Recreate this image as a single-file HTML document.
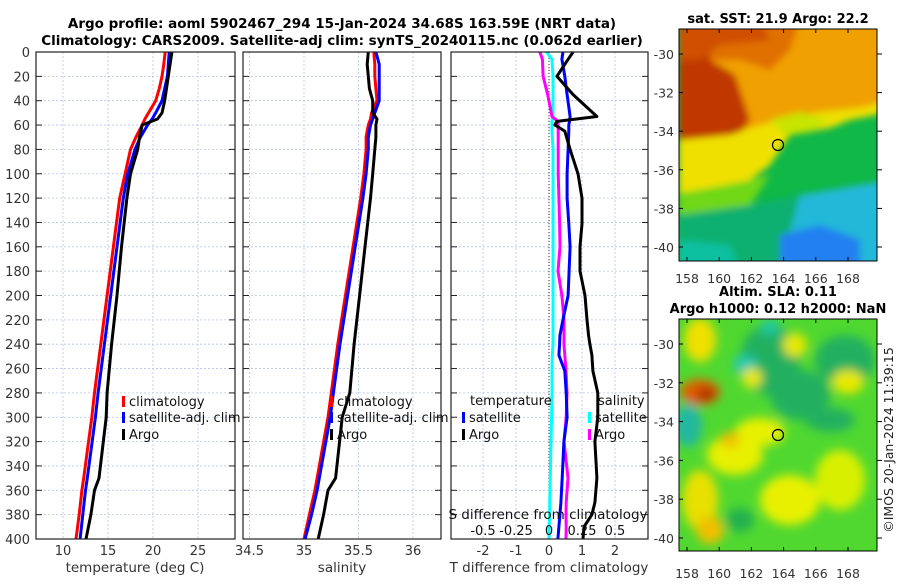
<!DOCTYPE html>
<html><head><meta charset="utf-8">
<style>
html,body{margin:0;padding:0;background:#fff;}
body{width:900px;height:580px;overflow:hidden;font-family:"Liberation Sans","DejaVu Sans",sans-serif;}
svg text{font-family:"DejaVu Sans","Liberation Sans",sans-serif;}
</style></head>
<body>
<svg id="fig" width="900" height="580" viewBox="0 0 900 580" xmlns="http://www.w3.org/2000/svg">
<defs>
<filter id="blur1" x="-20%" y="-20%" width="140%" height="140%"><feGaussianBlur stdDeviation="5"/></filter>
<filter id="blur2" x="-20%" y="-20%" width="140%" height="140%"><feGaussianBlur stdDeviation="3.5"/></filter>
<clipPath id="clipTop"><rect x="679" y="29" width="198" height="232"/></clipPath>
<clipPath id="clipBot"><rect x="679" y="319" width="198" height="232"/></clipPath>
</defs>
<g font-weight="bold" font-size="13.5" text-anchor="middle" fill="#000">
<text x="342" y="28">Argo profile: aoml 5902467_294 15-Jan-2024 34.68S 163.59E (NRT data)</text>
<text x="342" y="45">Climatology: CARS2009. Satellite-adj clim: synTS_20240115.nc (0.062d earlier)</text>
</g>
<g id="panels"></g>
<g id="maps">
 <g clip-path="url(#clipTop)">
  <rect x="679" y="29" width="198" height="232" fill="#10b848"/>
  <g filter="url(#blur2)">
   <polygon points="679,20 890,20 890,100 860,108 820,112 790,120 760,128 730,140 679,145" fill="#f0a000"/>
   <polygon points="679,20 800,20 790,50 770,70 740,60 710,60 679,70" fill="#e07000"/>
   <polygon points="679,20 705,20 710,60 735,75 750,120 735,140 700,140 679,150" fill="#c03800"/>
   <polygon points="679,20 760,20 770,40 720,45 700,60 679,60" fill="#d05000"/>
   <polygon points="679,140 730,135 760,125 790,118 820,112 860,108 890,100 890,112 850,120 830,128 790,135 770,165 750,180 720,188 700,190 679,195" fill="#f0e000"/>
   <polygon points="770,120 800,112 830,120 810,132 785,135" fill="#c8e400"/>
   <polygon points="679,193 720,186 750,180 770,175 750,205 679,218" fill="#70d818"/>
   <polygon points="679,215 750,205 800,195 890,185 890,270 679,270" fill="#10b070"/>
   <polygon points="800,195 890,180 890,270 780,270" fill="#20b8d8"/>
   <polygon points="780,235 820,225 860,240 860,270 780,270" fill="#2080f0"/>
   <polygon points="679,240 730,245 740,270 679,270" fill="#10c0a0"/>
  </g>
  <circle cx="778" cy="145" r="5.5" fill="none" stroke="#000" stroke-width="1.2"/>
 </g>
 <rect x="679" y="29" width="198" height="232" fill="none" stroke="#000" stroke-width="1"/>
 <g clip-path="url(#clipBot)">
  <rect x="679" y="319" width="198" height="232" fill="#50d830"/>
  <g filter="url(#blur1)">
   <ellipse cx="700" cy="340" rx="16" ry="22" fill="#f0e000"/>
   <ellipse cx="770" cy="360" rx="30" ry="35" fill="#20b060"/>
   <ellipse cx="800" cy="395" rx="30" ry="25" fill="#20b060"/>
   <ellipse cx="845" cy="360" rx="30" ry="25" fill="#20b060"/>
   <ellipse cx="848" cy="382" rx="16" ry="12" fill="#e8e800"/>
   <ellipse cx="745" cy="365" rx="12" ry="10" fill="#20c8b0"/>
   <ellipse cx="770" cy="327" rx="10" ry="8" fill="#20c8a0"/>
   <ellipse cx="795" cy="345" rx="12" ry="12" fill="#e8e800"/>
   <ellipse cx="752" cy="378" rx="10" ry="10" fill="#e8e800"/>
   <ellipse cx="700" cy="392" rx="20" ry="13" fill="#e06000"/>
   <ellipse cx="706" cy="394" rx="10" ry="7" fill="#b03000"/>
   <ellipse cx="688" cy="425" rx="14" ry="22" fill="#20b8a0"/>
   <ellipse cx="760" cy="432" rx="25" ry="14" fill="#e8f000"/>
   <ellipse cx="735" cy="455" rx="28" ry="20" fill="#e8f000"/>
   <ellipse cx="700" cy="500" rx="18" ry="30" fill="#e8e000"/>
   <ellipse cx="710" cy="530" rx="14" ry="14" fill="#f0c000"/>
   <ellipse cx="790" cy="500" rx="30" ry="25" fill="#e8f000"/>
   <ellipse cx="840" cy="480" rx="25" ry="30" fill="#d8f000"/>
   <ellipse cx="830" cy="420" rx="25" ry="12" fill="#20b060"/>
   <ellipse cx="740" cy="520" rx="14" ry="12" fill="#20b050"/>
   <ellipse cx="730" cy="440" rx="10" ry="8" fill="#f0c000"/>
  </g>
  <circle cx="778" cy="435" r="5.5" fill="none" stroke="#000" stroke-width="1.2"/>
 </g>
 <rect x="679" y="319" width="198" height="232" fill="none" stroke="#000" stroke-width="1"/>
 <text x="778" y="23" font-size="13" font-weight="bold" text-anchor="middle">sat. SST: 21.9 Argo: 22.2</text>
 <text x="778" y="296" font-size="13" font-weight="bold" text-anchor="middle">Altim. SLA: 0.11</text>
 <text x="778" y="313" font-size="13" font-weight="bold" text-anchor="middle">Argo h1000: 0.12 h2000: NaN</text>
 <text transform="translate(893,440) rotate(-90)" font-size="12.5" text-anchor="middle" fill="#222">©IMOS 20-Jan-2024 11:39:15</text>
 <g id="mapticks"></g>
</g>
</svg>
<script>
// ---- data ----
const depthT = [0,10,20,30,40,50,55,60,70,80,100,120,160,200,240,280,300,350,360,380,400];
const tempClim = [21.35,21.2,21.0,20.7,20.3,19.5,19.1,18.8,18.1,17.5,16.9,16.3,15.6,14.9,14.2,13.5,13.2,12.3,12.1,11.8,11.45];
const tempSat  = [21.8,21.7,21.6,21.3,21.0,20.3,19.9,19.4,18.6,18.0,17.2,16.7,16.0,15.3,14.6,13.9,13.6,12.7,12.5,12.2,11.9];
const tempArgo = [22.1,21.9,21.7,21.5,21.3,21.0,20.5,18.8,18.5,18.3,17.5,17.1,16.5,16.0,15.4,14.9,14.8,14.0,13.5,13.1,12.55];
const salClim = [35.64,35.65,35.65,35.66,35.67,35.62,35.61,35.59,35.57,35.57,35.55,35.52,35.45,35.38,35.31,35.25,35.22,35.12,35.10,35.05,35.0];
const salSat  = [35.66,35.69,35.69,35.69,35.69,35.65,35.63,35.61,35.59,35.59,35.57,35.54,35.47,35.40,35.33,35.27,35.24,35.14,35.12,35.07,35.01];
const salArgo = [35.59,35.58,35.59,35.60,35.63,35.63,35.67,35.66,35.66,35.65,35.63,35.61,35.56,35.51,35.46,35.42,35.35,35.29,35.22,35.18,35.13];
const depthD = [0,6,20,35,53,57,60,65,80,100,120,141,160,180,200,220,233,240,249,262,280,300,320,350,370,380,390,400];
const dT_argo = [0.73,0.58,0.24,0.73,1.45,0.24,0.18,0.48,0.64,0.88,1.0,1.0,0.94,0.94,1.09,1.15,1.2,1.24,1.3,1.33,1.48,1.48,1.39,1.45,1.39,1.3,1.06,1.03];
const dT_sat  = [0.42,0.39,0.48,0.55,0.64,0.62,0.6,0.6,0.58,0.55,0.55,0.6,0.64,0.61,0.58,0.42,0.33,0.32,0.3,0.48,0.52,0.55,0.45,0.4,0.36,0.33,0.3,0.27];
const dS_argo = [-0.07,-0.05,-0.045,-0.01,0.023,0.068,0.068,0.07,0.07,0.07,0.075,0.08,0.083,0.068,0.098,0.114,0.114,0.114,0.12,0.129,0.136,0.13,0.114,0.144,0.13,0.129,0.13,0.129];
const dS_sat  = [-0.02,0.023,0.03,0.03,0.03,0.023,0.023,0.023,0.03,0.03,0.03,0.03,0.03,0.03,0.03,0.03,0.03,0.03,0.025,0.023,0.023,0.02,0.015,0.01,0.005,0.005,0.0,0.0];
const depthTicks = [0,20,40,60,80,100,120,140,160,180,200,220,240,260,280,300,320,340,360,380,400];
const tempTicks = [10,15,20,25];
const salTicks = [34.5,35,35.5,36];
const dTTicks = [-2,-1,0,1,2];
const dSTicks = [-0.5,-0.25,0,0.25,0.5];
const dSTickLabels = ["-0.5","-0.25","0","0.25","0.5"];
const lonTicks = [158,160,162,164,166,168];
const latTicks = [-30,-32,-34,-36,-38,-40];

// ---- axes ----
const Y0=52, Y1=539;
const yD = d => Y0 + d*(Y1-Y0)/400;
const xT = t => 63 + (t-10)*9;
const xS = s => 304 + (s-35)*109;
const xDT = t => 549 + t*33;
const xDS = s => 549 + s*132;
const NS='http://www.w3.org/2000/svg';
const root=document.getElementById('panels');
function mk(tag, attrs, parent){const e=document.createElementNS(NS,tag);for(const k in attrs)e.setAttribute(k,attrs[k]);(parent||root).appendChild(e);return e;}

const panels=[{x0:36,x1:235,name:'temperature-panel'},{x0:243,x1:441,name:'salinity-panel'},{x0:451,x1:648,name:'difference-panel'}];
const panelG=[];
panels.forEach((p,i)=>{
  const g=mk('g',{});
  
  
  panelG.push(g);
  depthTicks.forEach(d=>{
    const y=yD(d);
    if(d>0&&d<400){const l=mk('line',{x1:p.x0,x2:p.x1,y1:y,y2:y,stroke:'#b8c4e8','stroke-width':0.8,'stroke-dasharray':'2,2'},g);
      
      }
    mk('line',{x1:p.x0,x2:p.x0+6,y1:y,y2:y,stroke:'#222','stroke-width':1},g);
    mk('line',{x1:p.x1-6,x2:p.x1,y1:y,y2:y,stroke:'#222','stroke-width':1},g);
  });
});
function vgrid(g,ticks,fx,p){ticks.forEach(t=>{const x=fx(t);if(x>p.x0&&x<p.x1){const l=mk('line',{x1:x,x2:x,y1:Y0,y2:Y1,stroke:'#b8c4e8','stroke-width':0.8,'stroke-dasharray':'2,2'},g);
  
  }});}
vgrid(panelG[0],tempTicks,xT,panels[0]);
vgrid(panelG[1],salTicks,xS,panels[1]);
vgrid(panelG[2],dTTicks,xDT,panels[2]);
const zl=mk('line',{x1:xDT(0),x2:xDT(0),y1:Y0,y2:Y1,stroke:'#555','stroke-width':1.2,'stroke-dasharray':'1,2'},panelG[2]);



depthTicks.forEach(d=>{const t=mk('text',{x:30,y:yD(d)+5,'font-size':13,'text-anchor':'end',fill:'#333'});t.textContent=d;
  
  });
function xlabels(ticks,fx,labels){ticks.forEach((t,i)=>{const e=mk('text',{x:fx(t),y:555,'font-size':13,'text-anchor':'middle',fill:'#333'});e.textContent=labels?labels[i]:t;
  
  });}
xlabels(tempTicks,xT);xlabels(salTicks,xS);xlabels(dTTicks,xDT);
dSTicks.forEach((s,i)=>{const e=mk('text',{x:xDS(s),y:535,'font-size':13,'text-anchor':'middle',fill:'#111'});e.textContent=dSTickLabels[i];
  
  });
const sdt=mk('text',{x:548,y:519,'font-size':13.5,'text-anchor':'middle',fill:'#111'});sdt.textContent='S difference from climatology';


[['temperature (deg C)',135,'temperature-axis-title'],['salinity',342,'salinity-axis-title'],['T difference from climatology',549,'t-diff-axis-title']].forEach(a=>{
  const e=mk('text',{x:a[1],y:572,'font-size':13.5,'text-anchor':'middle',fill:'#333'});e.textContent=a[0];
  
  });

function line(g,xs,ds,fx,color,name){
  const pts=xs.map((v,i)=>fx(v).toFixed(1)+','+yD(ds[i]).toFixed(1)).join(' ');
  const e=mk('polyline',{points:pts,fill:'none',stroke:color,'stroke-width':3,'stroke-linejoin':'round'},g);
  
  
}
line(panelG[0],tempClim,depthT,xT,'#ff0000','temp-climatology-line');
line(panelG[0],tempSat,depthT,xT,'#0000ff','temp-satellite-line');
line(panelG[0],tempArgo,depthT,xT,'#000000','temp-argo-line');
line(panelG[1],salClim,depthT,xS,'#ff0000','sal-climatology-line');
line(panelG[1],salSat,depthT,xS,'#0000ff','sal-satellite-line');
line(panelG[1],salArgo,depthT,xS,'#000000','sal-argo-line');
line(panelG[2],dS_sat,depthD,xDS,'#00ffff','sdiff-satellite-line');
line(panelG[2],dS_argo,depthD,xDS,'#ff00ff','sdiff-argo-line');
line(panelG[2],dT_sat,depthD,xDT,'#0000ff','tdiff-satellite-line');
line(panelG[2],dT_argo,depthD,xDT,'#000000','tdiff-argo-line');

panels.forEach((p,i)=>{mk('rect',{x:p.x0,y:Y0,width:p.x1-p.x0,height:Y1-Y0,fill:'none',stroke:'#222','stroke-width':1.2},panelG[i]);});

function leg(g,x,y,color,label,name){
  mk('rect',{x:x,y:y-10,width:3,height:11,fill:color},g);
  const t=mk('text',{x:x+7,y:y,'font-size':13,fill:'#111'},g);t.textContent=label;
  
  
}
[[panelG[0],122],[panelG[1],330]].forEach((a,i)=>{
  leg(a[0],a[1],406,'#ff0000','climatology','legend-climatology');
  leg(a[0],a[1],422,'#0000ff','satellite-adj. clim','legend-satellite-adj');
  leg(a[0],a[1],439,'#000000','Argo','legend-argo');
});
const lt1=mk('text',{x:470,y:405,'font-size':13,fill:'#111'},panelG[2]);lt1.textContent='temperature';


const lt2=mk('text',{x:598,y:405,'font-size':13,fill:'#111'},panelG[2]);lt2.textContent='salinity';


leg(panelG[2],462,422,'#0000ff','satellite','legend-t-satellite');
leg(panelG[2],462,439,'#000000','Argo','legend-t-argo');
leg(panelG[2],588,422,'#00ffff','satellite','legend-s-satellite');
leg(panelG[2],588,439,'#ff00ff','Argo','legend-s-argo');

const mt=document.getElementById('mapticks');
const lonX = lon => 687 + (lon-158)*16.1;
const latY1 = lat => 54 + (-30-lat)*19.3;
const latY2 = lat => 344 + (-30-lat)*19.4;
[[29,261,latY1,271],[319,551,latY2,566]].forEach(m=>{
  lonTicks.forEach(lon=>{const x=lonX(lon);
    mk('line',{x1:x,x2:x,y1:m[1],y2:m[1]-4,stroke:'#000'},mt);
    mk('line',{x1:x,x2:x,y1:m[0],y2:m[0]+4,stroke:'#000'},mt);
    const t=mk('text',{x:x,y:m[3]+12,'font-size':12.5,'text-anchor':'middle',fill:'#333'},mt);t.textContent=lon;
    
    });
  latTicks.forEach(lat=>{const y=m[2](lat);
    mk('line',{x1:679,x2:683,y1:y,y2:y,stroke:'#000'},mt);
    mk('line',{x1:877,x2:882,y1:y,y2:y,stroke:'#000'},mt);
    const t=mk('text',{x:674,y:y+5,'font-size':12.5,'text-anchor':'end',fill:'#333'},mt);t.textContent=lat;
    
    });
});
</script>
</body></html>
